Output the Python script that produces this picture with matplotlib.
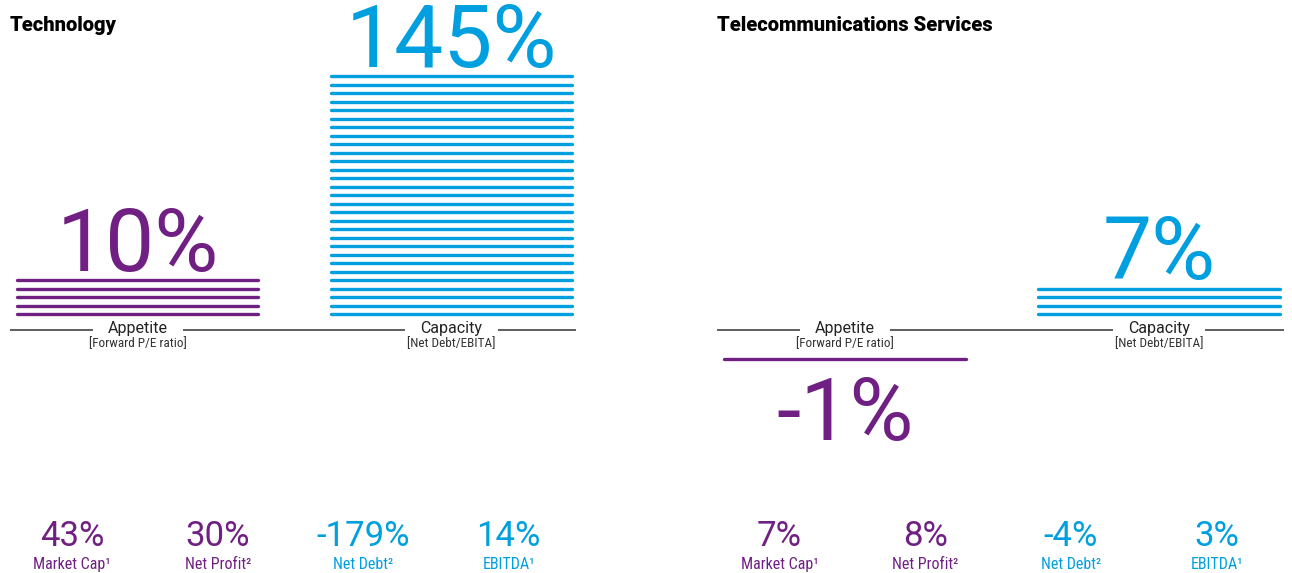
import matplotlib
matplotlib.use("Agg")
import matplotlib.pyplot as plt
import numpy as np

# ======================
# DATA
# ======================
panel_titles = ["Technology", "Telecommunications Services"]
bar_names = ["Appetite", "Capacity"]
bar_subtitles = ["[Forward P/E ratio]", "[Net Debt/EBITA]"]

tech_values = ["10%", "145%"]
tech_stripes = [5, 29]          # stripes drawn per bar
telecom_values = ["-1%", "7%"]
telecom_stripes = [-1, 4]       # negative = stripes below the axis

summary_labels = ["Market Cap¹", "Net Profit²", "Net Debt²", "EBITDA¹"]
tech_summary = ["43%", "30%", "-179%", "14%"]
telecom_summary = ["7%", "8%", "-4%", "3%"]

# ======================
# STYLE
# ======================
PURPLE = "#702082"
BLUE = "#009FDF"
bar_colors = [PURPLE, BLUE]
summary_colors = [PURPLE, PURPLE, BLUE, BLUE]

SANS = ["Roboto", "DejaVu Sans"]
NARROW = ["Roboto Condensed", "Liberation Sans Narrow", "DejaVu Sans"]

STEP = 8.5        # vertical gap between stripes
POS_START = 16    # first stripe above the axis line
NEG_START = 29    # first stripe below the axis line
BAR_W = 0.77
X0, X1 = -0.407, 1.397

W, H = 1292, 573
fig = plt.figure(figsize=(W / 100, H / 100), dpi=100)


def draw_panel(ax, title, values, stripes, summary):
    ax.set_xlim(X0, X1)
    ax.set_ylim(-243, 330)
    ax.axis("off")

    # title
    ax.text(X0, 299, title, ha="left", va="baseline", fontsize=14.5,
            fontweight="black", family=SANS, color="black")

    # axis line with labels sitting on it
    ax.axhline(0, color="#333333", lw=1.1, zorder=1)
    for i in range(2):
        ax.text(i, 1, bar_names[i], ha="center", va="center", fontsize=11.5,
                family=SANS, color="#222222", zorder=2,
                bbox=dict(boxstyle="square,pad=0.95", fc="white", ec="none"))
        ax.text(i, -14, bar_subtitles[i], ha="center", va="center", fontsize=9.5,
                family=NARROW, color="#333333", zorder=2)

    # striped bars
    for i, n in enumerate(stripes):
        k = np.arange(abs(n))
        if n > 0:
            ys = POS_START + STEP * k
            label_y = ys[-1] + 9
        else:
            ys = -NEG_START - STEP * k
            label_y = ys[-1] - 81
        ax.hlines(ys, i - BAR_W / 2, i + BAR_W / 2, colors=bar_colors[i],
                  lw=2.4, capstyle="round", zorder=3)
        ax.text(i, label_y, values[i], ha="center", va="baseline", fontsize=63,
                family=SANS, color=bar_colors[i])

    # summary row
    xs = X0 + (X1 - X0) * (0.11 + 0.257 * np.arange(4))
    for x, v, lab, c in zip(xs, summary, summary_labels, summary_colors):
        ax.text(x, -216, v, ha="center", va="baseline", fontsize=25,
                family=SANS, color=c)
        ax.text(x, -239, lab, ha="center", va="baseline", fontsize=11.5,
                family=NARROW, color=c)


ax1 = fig.add_axes([10 / W, 0, 566 / W, 1])
draw_panel(ax1, panel_titles[0], tech_values, tech_stripes, tech_summary)

ax2 = fig.add_axes([717 / W, 0, 567 / W, 1])
draw_panel(ax2, panel_titles[1], telecom_values, telecom_stripes, telecom_summary)

fig.savefig("out.png", dpi=100, facecolor="white")
